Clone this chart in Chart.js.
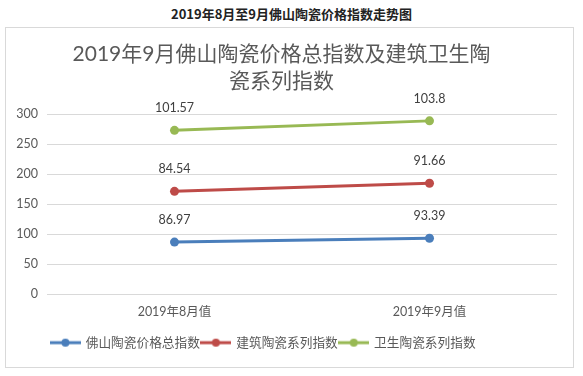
<!DOCTYPE html>
<html><head><meta charset="utf-8">
<script src="https://cdn.jsdelivr.net/npm/chart.js@4/dist/chart.umd.min.js"></script>
<style>
html,body{margin:0;padding:0;background:#fff;width:583px;height:376px;overflow:hidden;}
#cap{position:absolute;left:0;top:5px;width:583px;text-align:center;font:bold 13px "Noto Sans CJK SC",sans-serif;color:#222;line-height:18px;}
#box{position:absolute;left:5px;top:27px;width:567px;height:339px;border:1px solid #d9d9d9;}
canvas{display:block;}
</style></head>
<body>
<div id="cap">2019年8月至9月佛山陶瓷价格指数走势图</div>
<div id="box"><canvas id="c" width="567" height="339"></canvas></div>
<script>
const categories = ['2019年8月值', '2019年9月值'];
const totalIndex = [86.97, 93.39];
const buildingIndex = [84.54, 91.66];
const sanitaryIndex = [101.57, 103.8];
const seriesNames = ['佛山陶瓷价格总指数', '建筑陶瓷系列指数', '卫生陶瓷系列指数'];
const titleLines = ['2019年9月佛山陶瓷价格总指数及建筑卫生陶', '瓷系列指数'];
const yTicks = [0, 50, 100, 150, 200, 250, 300];

const colors = ['#4a7ebb', '#be4b48', '#98b954'];
const FONT = 'Lato, "Noto Sans CJK SC", sans-serif';

function legendIcon(color){
  const c = document.createElement('canvas');
  c.width = 31; c.height = 10;
  const x = c.getContext('2d');
  x.strokeStyle = color; x.lineWidth = 3;
  x.beginPath(); x.moveTo(0,5); x.lineTo(31,5); x.stroke();
  x.fillStyle = color; x.beginPath(); x.arc(15.5,5,4,0,Math.PI*2); x.fill();
  return c;
}

const labelPlugin = {
  id: 'valueLabels',
  afterDatasetsDraw(chart){
    const ctx = chart.ctx;
    ctx.save();
    ctx.font = '12.5px ' + FONT;
    ctx.fillStyle = '#404040';
    ctx.textAlign = 'center';
    ctx.textBaseline = 'middle';
    chart.data.datasets.forEach((ds, i) => {
      chart.getDatasetMeta(i).data.forEach((pt, j) => {
        ctx.fillText(String(ds.data[j]), pt.x, pt.y - 22);
      });
    });
    ctx.restore();
  }
};
const legendShift = {
  id: 'legendShift',
  afterLayout(chart){
    const lg = chart.legend;
    lg.left -= 18; lg.right -= 18;
  }
};

const mk = (label, data, i) => ({
  label, data,
  borderColor: colors[i], backgroundColor: colors[i],
  borderWidth: 3, pointRadius: 4.5, pointHoverRadius: 4.5,
  pointBackgroundColor: colors[i], pointBorderWidth: 0,
  pointStyle: 'circle',
  fill: false, tension: 0
});

new Chart(document.getElementById('c'), {
  type: 'line',
  data: {
    labels: categories,
    datasets: [
      mk(seriesNames[0], totalIndex, 0),
      mk(seriesNames[1], buildingIndex, 1),
      mk(seriesNames[2], sanitaryIndex, 2)
    ]
  },
  options: {
    responsive: false,
    animation: false,
    devicePixelRatio: 1,
    layout: { padding: { left: 0, right: 16, top: 0, bottom: 8 } },
    plugins: {
      tooltip: { enabled: false },
      title: {
        display: true,
        text: titleLines,
        color: '#595959',
        font: { family: FONT, size: 21, weight: 'normal', lineHeight: 1.29 },
        padding: { top: 13, bottom: 19 }
      },
      legend: {
        position: 'bottom',
        labels: {
          color: '#595959',
          font: { family: FONT, size: 12.7 },
          usePointStyle: true,
          pointStyleWidth: 28,
          padding: 2,
          generateLabels(chart){
            return chart.data.datasets.map((ds, i) => ({
              text: ds.label,
              pointStyle: legendIcon(colors[i]),
              fillStyle: colors[i], strokeStyle: colors[i], lineWidth: 0,
              datasetIndex: i, hidden: false, fontColor: '#595959'
            }));
          }
        }
      }
    },
    scales: {
      x: {
        offset: true,
        afterFit(s){ s.height = 40; },
        grid: { display: false, drawTicks: false },
        border: { display: false },
        ticks: { color: '#595959', font: { family: FONT, size: 12.5 }, padding: 10 }
      },
      y: {
        stacked: true,
        min: 0, max: 300,
        afterFit(s){ s.width = 41; },
        afterBuildTicks(s){ s.ticks = yTicks.map(v => ({ value: v })); },
        grid: { color: '#d9d9d9', drawTicks: false, lineWidth: 1 },
        border: { display: false },
        ticks: { color: '#595959', font: { family: FONT, size: 12.5 }, padding: 9 }
      }
    }
  },
  plugins: [labelPlugin, legendShift]
});
</script>
</body></html>
